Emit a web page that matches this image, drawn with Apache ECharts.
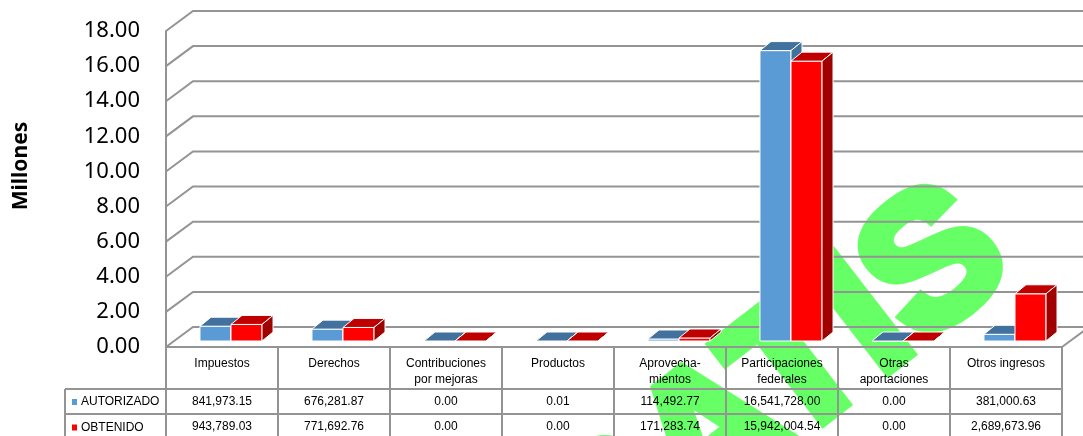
<!DOCTYPE html>
<html>
<head>
<meta charset="utf-8">
<script src="https://cdn.jsdelivr.net/npm/echarts@6/dist/echarts.min.js"></script>
<style>
  html, body { margin: 0; padding: 0; background: #fff; }
  #chart { width: 1083px; height: 436px; }
</style>
</head>
<body>
<div id="chart"></div>
<script>
// datos de la grafica
const categories = ['Impuestos', 'Derechos', 'Contribuciones\npor mejoras', 'Productos',
  'Aprovecha-\nmientos', 'Participaciones\nfederales', 'Otras\naportaciones', 'Otros ingresos'];
const seriesNames = ['AUTORIZADO', 'OBTENIDO'];
const autorizado = [841973.15, 676281.87, 0.00, 0.01, 114492.77, 16541728.00, 0.00, 381000.63];
const obtenido = [943789.03, 771692.76, 0.00, 0.00, 171283.74, 15942004.54, 0.00, 2689673.96];
const yTicks = [0, 2, 4, 6, 8, 10, 12, 14, 16, 18];
const yTickLabels = ['0.00', '2.00', '4.00', '6.00', '8.00', '10.00', '12.00', '14.00', '16.00', '18.00'];

const fmt = v => v.toLocaleString('en-US', {minimumFractionDigits: 2, maximumFractionDigits: 2});

const chart = echarts.init(document.getElementById('chart'));

// layout
const G = {left: 166, right: 21, top: 31, bottom: 89};
const colW = (1083 - G.left - G.right) / categories.length;
const gridX1 = 1083 - G.right;
const lineColor = '#949494';
const tableFont = 'Liberation Sans, Arial, sans-serif';

// barras "3D"
function bar3d(side, colors) {
  return function (params, api) {
    const idx = api.value(0);
    const val = api.value(1);
    const base = api.coord([idx, 0]);
    const top = api.coord([idx, val]);
    const bw = api.size([1, 0])[0] * 0.277;
    const dx = 11, dy = -9;
    const x0 = base[0] + 9 + (side === 0 ? -bw : 0);
    const yb = base[1] - 6, yt = top[1] - 6;
    const st = {stroke: '#fff', lineWidth: 1};
    return {
      type: 'group',
      children: [
        {type: 'rect', shape: {x: x0, y: yt, width: bw, height: yb - yt},
          style: Object.assign({fill: colors[0]}, st)},
        {type: 'polygon', shape: {points: [[x0, yt], [x0 + bw, yt], [x0 + bw + dx, yt + dy], [x0 + dx, yt + dy]]},
          style: Object.assign({fill: colors[1]}, st)},
        {type: 'polygon', shape: {points: [[x0 + bw, yt], [x0 + bw + dx, yt + dy], [x0 + bw + dx, yb + dy], [x0 + bw, yb]]},
          style: Object.assign({fill: colors[2]}, st)}
      ]
    };
  };
}

// pared del fondo y lineas de la izquierda
function wall(params, api) {
  const cs = params.coordSys;
  const v = api.value(1);
  const y = api.coord([0, v])[1];
  const x = cs.x;
  const children = [{
    type: 'polyline',
    shape: {points: [[x, y], [x + 27, y - 20], [x + cs.width + 27, y - 20]]},
    style: {stroke: lineColor, lineWidth: 2, fill: null}
  }];
  if (v === 0) {
    children.push({
      type: 'line',
      shape: {x1: x + cs.width, y1: y, x2: x + cs.width + 27, y2: y - 20},
      style: {stroke: lineColor, lineWidth: 2}
    });
  }
  return {type: 'group', children: children};
}

// tabla
const tableEls = [];
const rowY = [347, 389, 414, 440];
for (let i = 0; i <= categories.length; i++) {
  const x = G.left + i * colW;
  tableEls.push({type: 'line', shape: {x1: x, y1: rowY[0], x2: x, y2: rowY[3]},
    style: {stroke: lineColor, lineWidth: 2}});
}
[rowY[1], rowY[2]].forEach(y => {
  tableEls.push({type: 'line', shape: {x1: 65, y1: y, x2: gridX1, y2: y},
    style: {stroke: lineColor, lineWidth: 2}});
});
tableEls.push({type: 'line', shape: {x1: 65, y1: rowY[1], x2: 65, y2: rowY[3]},
  style: {stroke: lineColor, lineWidth: 2}});
const keyColors = ['#5B9BD5', '#FF0000'];
seriesNames.forEach((n, i) => {
  const cy = (rowY[i + 1] + rowY[i + 2]) / 2 + 0.5;
  tableEls.push({type: 'rect', shape: {x: 72, y: cy - 3, width: 5, height: 6}, style: {fill: keyColors[i]}});
  tableEls.push({type: 'text', x: 81, y: cy,
    style: {text: n, fill: '#000', font: '12px ' + tableFont, verticalAlign: 'middle'}});
});

const option = {
  backgroundColor: '#fff',
  animation: false,
  grid: {left: G.left, right: G.right, top: G.top, bottom: G.bottom},
  xAxis: [
    {
      type: 'category', data: categories, position: 'bottom',
      axisLine: {lineStyle: {color: lineColor, width: 2}},
      axisTick: {show: false},
      axisLabel: {interval: 0, color: '#000', fontSize: 12, fontFamily: tableFont,
        lineHeight: 16, margin: 9, verticalAlign: 'top'}
    },
    {
      type: 'category', data: autorizado.map(fmt), position: 'bottom', offset: 55,
      axisLine: {show: false}, axisTick: {show: false},
      axisLabel: {interval: 0, color: '#000', fontSize: 12, fontFamily: tableFont,
        margin: 0, verticalAlign: 'middle'}
    },
    {
      type: 'category', data: obtenido.map(fmt), position: 'bottom', offset: 80,
      axisLine: {show: false}, axisTick: {show: false},
      axisLabel: {interval: 0, color: '#000', fontSize: 12, fontFamily: tableFont,
        margin: 0, verticalAlign: 'middle'}
    }
  ],
  yAxis: {
    type: 'value', min: 0, max: 18, interval: 2,
    axisLine: {show: true, lineStyle: {color: lineColor, width: 2}},
    axisTick: {show: false},
    splitLine: {show: false},
    axisLabel: {
      margin: 26, color: '#000', fontSize: 22, fontFamily: 'Noto Sans',
      padding: [6, 0, 0, 0],
      formatter: v => yTickLabels[yTicks.indexOf(v)]
    }
  },
  graphic: [
    // marca de agua
    {type: 'text', x: 715, y: 440, rotation: 0.66, z: -100,
      style: {text: 'GRATIS', fill: '#66FF66', font: 'bold 185px Liberation Sans',
        stroke: '#66FF66', lineWidth: 12,
        align: 'center', verticalAlign: 'middle'}},
    {type: 'text', x: 21, y: 166, rotation: Math.PI / 2,
      style: {text: 'Millones', fill: '#000', font: 'bold 21px Noto Sans',
        align: 'center', verticalAlign: 'middle'}},
    {type: 'group', children: tableEls}
  ],
  series: [
    {type: 'custom', name: 'pared', renderItem: wall, z: 1,
      data: yTicks.map(v => [0, v])},
    {type: 'custom', name: seriesNames[0], renderItem: bar3d(0, ['#5B9BD5', '#41719C', '#41719C']), z: 3,
      data: autorizado.map((v, i) => [i, v / 1e6])},
    {type: 'custom', name: seriesNames[1], renderItem: bar3d(1, ['#FF0000', '#C00000', '#A00000']), z: 4,
      data: obtenido.map((v, i) => [i, v / 1e6])}
  ]
};

chart.setOption(option);
</script>
</body>
</html>
